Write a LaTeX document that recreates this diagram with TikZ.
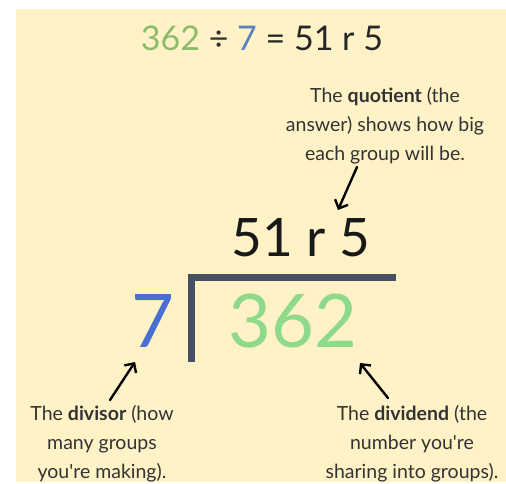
\documentclass[tikz,border=0pt]{standalone}
\usepackage{fontspec}
\setmainfont{Lato}
\newfontfamily\straightlato{Lato}[Ligatures=ResetAll]
\usetikzlibrary{arrows.meta}
\definecolor{bg}{HTML}{FFF2C7}
\definecolor{titlegreen}{HTML}{8DBB6A}
\definecolor{titleblue}{HTML}{5B7EC2}
\definecolor{biggreen}{HTML}{8FD98A}
\definecolor{bigblue}{HTML}{4A6FD2}
\definecolor{bracket}{HTML}{475166}
\definecolor{txt}{HTML}{333333}
\newcommand{\apos}{{\straightlato\char"27}}
\tikzset{
  note/.style={align=center, text=txt, font=\fontsize{19.5}{29}\selectfont, inner sep=0pt},
  big/.style={inner sep=0pt, font=\fontsize{74}{74}\selectfont},
  pointer/.style={draw=black, line width=2.4pt, line cap=round, -{Straight Barb[length=7pt,width=14pt,line width=2.4pt]}},
  bar/.style={draw=bracket, line width=7pt}
}
\begin{document}
\begin{tikzpicture}[x=1pt,y=-1pt]
\useasboundingbox (0,0) rectangle (506,484);
\fill[bg] (16,9) rectangle (506,482);
\node[inner sep=0pt, font=\fontsize{34}{34}\selectfont, text=black!85] (title) at (262,38)
  {\textcolor{titlegreen}{362} \textcolor{txt}{÷} \textcolor{titleblue}{7} = 51 r 5};
\node[note] (qnote) at (385,126) {The \textbf{quotient} (the\\answer) shows how big\\each group will be.};
\node[inner sep=0pt, font=\fontsize{53}{53}\selectfont, text=black!90] (quot) at (301,238) {51 r 5};
\node[big, text=bigblue] (divisor) at (153,321) {7};
\node[big, text=biggreen] (dividend) at (293,321) {362};
\coordinate (barL) at (188,277);
\coordinate (barR) at (396,277);
\coordinate (barB) at (191,362);
\draw[bar] (barB) -- (barB |- barL) -- (barR);
\node[note] (dnote) at (102,444) {The \textbf{divisor} (how\\many groups\\you\apos re making).};
\node[note] (ddnote) at (412,444) {The \textbf{dividend} (the\\number you\apos re\\sharing into groups).};
\coordinate (qa) at (357,167);
\coordinate (qb) at (338,210);
\coordinate (da) at (110,400);
\coordinate (db) at (135,362);
\coordinate (dda) at (388,398);
\coordinate (ddb) at (360,363);
\draw[pointer] (qa) -- (qb);
\draw[pointer] (da) -- (db);
\draw[pointer] (dda) -- (ddb);
\end{tikzpicture}
\end{document}
